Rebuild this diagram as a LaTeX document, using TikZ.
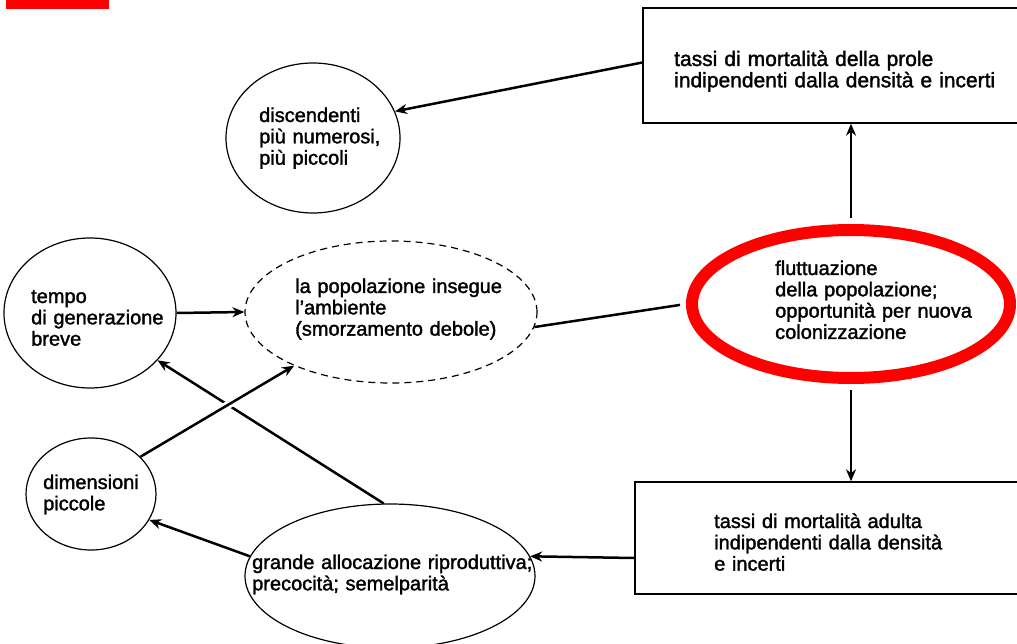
\documentclass[tikz,border=0pt]{standalone}
\usepackage{fontspec}
\setmainfont[FakeBold=1.6]{Liberation Sans}
\usetikzlibrary{shapes.geometric,arrows.meta,calc}
\begin{document}
\begin{tikzpicture}[x=1pt,y=-1pt,
  oval/.style={draw, ellipse, line width=1.2pt, inner sep=0pt},
  boxnode/.style={draw, rectangle, line width=1.4pt, inner sep=0pt},
  txt/.style={anchor=base west, align=left, inner sep=0pt, text width=#1,
              font=\fontsize{20}{21.3}\selectfont},
  conn/.style={line width=2.5pt},
  arr/.style={conn, -{Stealth[length=12pt,width=10pt]}}]
\useasboundingbox (0,0) rectangle (1017,644);
\fill[white] (0,0) rectangle (1017,644);
\fill[red] (6,0) rectangle (109,9);

% shapes
\node[boxnode, minimum width=387pt, minimum height=115pt] (top) at (836.5,65.5) {};
\node[boxnode, minimum width=395pt, minimum height=112pt] (bot) at (832.5,538) {};
\node[oval, minimum width=174pt, minimum height=150pt] (desc) at (313,138) {};
\node[oval, minimum width=172pt, minimum height=150pt] (tempo) at (90,313) {};
\node[oval, dash pattern=on 7pt off 5pt, minimum width=292pt, minimum height=142pt] (dash) at (391,312) {};
\node[oval, minimum width=130pt, minimum height=112pt] (dim) at (91,494) {};
\node[oval, minimum width=290pt, minimum height=144pt] (grande) at (390,576) {};
\node[draw=red, ellipse, line width=12pt, inner sep=0pt, minimum width=318pt, minimum height=148pt] (flut) at (851,304) {};

% texts
\node[txt=330pt, font=\fontsize{21}{21.3}\selectfont] (topT) at (674,66) {tassi di mortalità della prole\\indipendenti dalla densità e incerti};
\node[txt=140pt] (descT) at (259,122) {discendenti\\più numerosi,\\più piccoli};
\node[txt=150pt] (tempoT) at (31,303) {tempo\\di generazione\\breve};
\node[txt=220pt] (dashT) at (295,293) {la popolazione insegue\\l’ambiente\\(smorzamento debole)};
\node[txt=220pt] (flutT) at (775,275) {fluttuazione\\della popolazione;\\opportunità per nuova\\colonizzazione};
\node[txt=270pt] (botT) at (714,528) {tassi di mortalità adulta\\indipendenti dalla densità\\e incerti};
\node[txt=290pt] (grandeT) at (252,569) {grande allocazione riproduttiva;\\precocità; semelparità};
\node[txt=110pt] (dimT) at (43,489) {dimensioni\\piccole};

% connectors
\draw[arr] ($(top.west)+(0,-3)$) -- (desc.18);
\draw[arr] (tempo.east) -- (dash.west);
\draw[conn, shorten >=6pt] (dash.-6) -- (flut.west);
\draw[arr, shorten <=6pt] (flut.north) -- (flut.north |- top.south);
\draw[arr, shorten <=6pt] (flut.south) -- (flut.south |- bot.north);
\draw[arr] ($(bot.west)+(0,20)$) -- (grande.8);
\draw[arr] (grande.172) -- (dim.-24);
\draw[arr] (grande.95) -- (tempo.-35);
\draw[white, line width=8pt, shorten <=40pt, shorten >=40pt] (dim.37) -- (dash.209);
\draw[arr] (dim.37) -- (dash.209);
\end{tikzpicture}
\end{document}
